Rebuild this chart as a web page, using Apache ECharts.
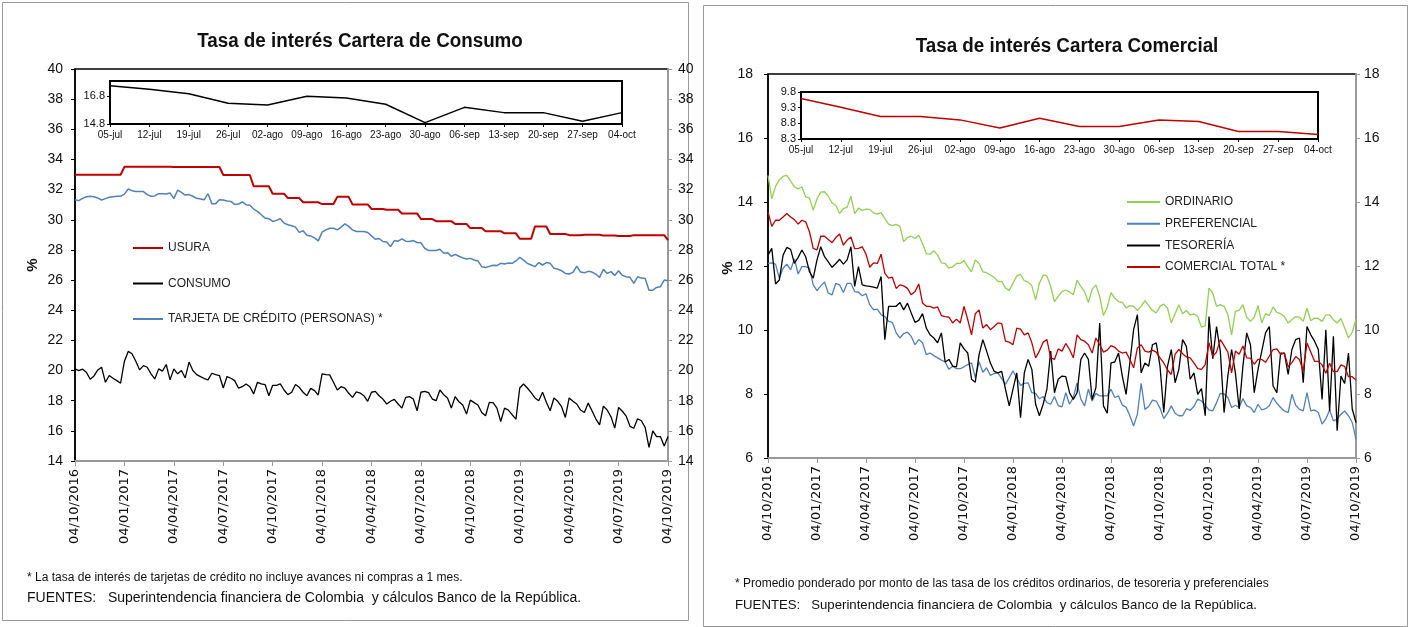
<!DOCTYPE html>
<html>
<head>
<meta charset="utf-8">
<script src="https://cdn.jsdelivr.net/npm/echarts@6/dist/echarts.min.js"></script>
<style>
  html, body { margin: 0; padding: 0; background: #fff; }
  #chart { width: 1410px; height: 627px; }
</style>
</head>
<body>
<div id="chart"></div>
<script>
const FONT = "'Liberation Sans', Arial, sans-serif"

// x axis tick labels (every 13 weeks)
const quarterLabels = ['04/10/2016', '04/01/2017', '04/04/2017', '04/07/2017', '04/10/2017', '04/01/2018', '04/04/2018',
  '04/07/2018', '04/10/2018', '04/01/2019', '04/04/2019', '04/07/2019', '04/10/2019']
const insetLabels = ['05-jul', '12-jul', '19-jul', '26-jul', '02-ago', '09-ago', '16-ago', '23-ago', '30-ago',
  '06-sep', '13-sep', '20-sep', '27-sep', '04-oct']

// tasa de usura, monthly certified value
const usuraMonths = ['2016-10', '2016-11', '2016-12', '2017-01', '2017-02', '2017-03', '2017-04', '2017-05', '2017-06',
  '2017-07', '2017-08', '2017-09', '2017-10', '2017-11', '2017-12', '2018-01', '2018-02', '2018-03', '2018-04',
  '2018-05', '2018-06', '2018-07', '2018-08', '2018-09', '2018-10', '2018-11', '2018-12', '2019-01', '2019-02',
  '2019-03', '2019-04', '2019-05', '2019-06', '2019-07', '2019-08', '2019-09', '2019-10']
const usuraRates = [32.99, 32.99, 32.99, 33.51, 33.51, 33.51, 33.50, 33.50, 33.50,
  32.97, 32.97, 32.22, 31.73, 31.44, 31.16, 31.04, 31.52, 31.02, 30.72,
  30.66, 30.42, 30.05, 29.91, 29.72, 29.45, 29.24, 29.10, 28.74, 29.55,
  29.06, 28.98, 29.01, 28.95, 28.92, 28.98, 28.98, 28.65]

// weekly series, 07/10/2016 .. 04/10/2019
const tarjeta = [31.33, 31.27, 31.42, 31.53, 31.56, 31.53, 31.44, 31.31, 31.4, 31.49,
  31.53, 31.56, 31.56, 31.7, 32.04, 31.93, 31.87, 31.87, 31.87, 31.67,
  31.56, 31.58, 31.73, 31.73, 31.71, 31.78, 31.4, 31.96, 31.82, 31.64,
  31.67, 31.56, 31.42, 31.38, 31.33, 31.73, 31.07, 31.07, 31.33, 31.31,
  31.24, 31.22, 31.02, 31.04, 31.18, 31.0, 30.96, 30.71, 30.56, 30.33,
  30.11, 30.07, 29.89, 29.96, 30.07, 29.78, 29.67, 29.6, 29.51, 29.16,
  29.27, 28.98, 28.93, 28.8, 28.6, 29.18, 29.33, 29.44, 29.44, 29.33,
  29.51, 29.73, 29.56, 29.33, 29.22, 29.22, 29.22, 29.16, 28.93,
  28.71, 28.76, 28.56, 28.53, 28.22, 28.62, 28.58, 28.73, 28.58, 28.56,
  28.62, 28.49, 28.47, 28.11, 27.96, 27.96, 27.96, 28.04, 27.78, 27.82,
  27.58, 27.71, 27.58, 27.47, 27.4, 27.44, 27.33, 27.27, 26.89, 26.84,
  26.91, 26.98, 26.96, 27.11, 27.07, 27.13, 27.11, 27.27, 27.51, 27.33,
  27.11, 27.0, 26.89, 27.16, 27.0, 27.16, 27.11, 26.78, 26.73, 26.62,
  26.44, 26.4, 26.51, 26.93, 26.53, 26.49, 26.58, 26.53, 26.4, 26.18,
  26.71, 26.44, 26.56, 26.31, 26.62, 26.31, 26.22, 26.18, 25.78, 26.22,
  26.13, 26.11, 25.33, 25.33, 25.51, 25.56, 26.0, 25.96]
const consumo = [20.11, 20.0, 20.09, 19.89, 19.42, 19.64, 20.04, 20.22, 19.22, 19.67,
  19.49, 19.33, 19.16, 20.62, 21.27, 21.11, 20.62, 20.04, 20.33, 20.22,
  19.78, 19.44, 20.11, 19.96, 20.4, 19.38, 20.11, 19.78, 20.0, 19.51,
  20.56, 20.0, 19.73, 19.6, 19.47, 19.38, 19.82, 19.73, 19.67, 18.84,
  19.6, 19.49, 19.33, 18.84, 18.93, 19.11, 18.93, 18.44, 19.22, 19.11,
  19.07, 18.33, 19.02, 19.02, 19.11, 18.71, 18.4, 18.56, 19.07, 18.89,
  18.56, 18.33, 18.82, 18.67, 18.38, 19.78, 19.73, 19.71, 19.22, 18.71,
  18.93, 18.84, 18.49, 18.22, 18.58, 18.51, 18.33, 17.96, 18.56,
  18.62, 18.33, 18.11, 17.78, 17.96, 18.09, 17.78, 17.51, 18.22, 18.27,
  18.11, 17.33, 18.56, 18.62, 18.53, 18.11, 18.0, 18.71, 18.4, 18.18,
  17.51, 18.27, 17.93, 17.71, 17.11, 18.04, 17.87, 17.71, 17.22, 17.0,
  17.89, 17.87, 17.51, 16.62, 17.51, 17.38, 17.07, 16.78, 18.84, 19.11,
  18.84, 18.53, 18.18, 18.0, 18.56, 17.89, 17.33, 18.18, 17.96, 17.6,
  16.89, 18.18, 17.96, 17.78, 17.38, 17.22, 17.84, 17.33, 16.8, 16.4,
  17.64, 17.38, 16.93, 16.18,
  17.55, 17.3, 16.98, 16.3, 16.17, 16.8, 16.67, 16.22, 14.9, 16.0, 15.62, 15.62, 15.0, 15.62]

const ordinario = [14.83, 14.1, 14.49, 14.69, 14.8, 14.83, 14.65, 14.47, 14.41, 14.47,
  14.16, 14.13, 13.74, 14.1, 14.31, 14.32, 14.18, 13.97, 13.89, 13.64,
  13.79, 13.84, 14.18, 13.64, 13.81, 13.74, 13.78, 13.77, 13.66, 13.62,
  13.67, 13.48, 13.31, 13.26, 13.3, 13.24, 12.76, 12.89, 12.93, 12.86,
  12.96, 12.7, 12.39, 12.37, 12.48, 12.34, 12.1, 12.08, 11.93, 11.98,
  12.08, 12.08, 12.17, 11.98, 11.82, 12.19, 12.08, 11.82, 11.79, 11.72,
  11.65, 11.51, 11.52, 11.31, 11.23, 11.46, 11.69, 11.74, 11.54, 11.5,
  11.38, 10.94, 11.46, 11.72, 11.69, 11.36, 10.89, 11.05, 11.2,
  11.25, 11.19, 11.1, 11.56, 11.36, 11.2, 10.86, 11.27, 11.41, 11.05,
  10.45, 10.71, 11.17, 10.99, 10.89, 10.86, 10.69, 10.76, 10.74, 10.61,
  10.74, 10.92, 10.76, 10.61, 10.53, 10.74, 10.81, 10.68, 10.22, 10.51,
  10.79, 10.51, 10.61, 10.47, 10.5, 10.42, 10.09, 10.13, 11.31, 11.15,
  10.74, 10.79, 10.74, 10.48, 9.85, 10.58, 10.61, 10.79, 10.4, 10.27,
  10.4, 10.76, 10.22, 10.51, 10.45, 10.72, 10.55, 10.51, 10.42, 10.22,
  10.32, 10.42, 10.4, 10.27, 10.68, 10.29, 10.37, 10.36, 10.27, 10.47,
  10.47, 10.32, 10.22, 10.36, 10.06, 9.75, 9.93, 10.34]
const preferencial = [12.08, 12.1, 12.06, 11.62, 11.93, 12.06, 11.88, 12.22, 11.75, 11.98,
  11.98, 11.93, 11.41, 11.23, 11.38, 11.5, 11.15, 11.1, 11.46, 11.41,
  11.17, 11.46, 11.46, 11.2, 11.18, 11.07, 11.13, 10.79, 10.63, 10.65,
  10.48, 10.42, 10.27, 10.24, 9.91, 9.75, 9.89, 9.93, 9.8, 9.54,
  9.7, 9.6, 9.23, 9.28, 9.2, 9.13, 9.06, 9.0, 8.77, 8.87,
  8.79, 8.79, 8.85, 8.92, 8.97, 8.51, 9.01, 8.68, 8.82, 8.58,
  8.64, 8.66, 8.48, 8.3, 8.51, 8.72, 8.51, 8.27, 8.33, 8.35,
  8.04, 8.02, 7.85, 7.92, 7.73, 7.68, 7.92, 7.64, 7.6,
  8.04, 7.68, 7.89, 8.35, 7.84, 7.63, 8.15, 7.78, 8.02, 7.94,
  7.94, 7.94, 8.15, 7.89, 7.94, 7.65, 7.59, 7.32, 7.0, 7.37,
  8.33, 7.52, 7.61, 7.81, 7.78, 7.56, 7.23, 7.4, 7.63, 7.4,
  7.32, 7.32, 7.54, 7.49, 7.61, 7.84, 7.78, 7.65, 7.5, 7.47,
  7.73, 8.02, 8.0, 7.89, 7.58, 7.65, 7.58, 7.86, 7.63, 7.58,
  7.42, 7.68, 7.5, 7.54, 7.63, 7.89, 7.71, 7.58, 7.47, 7.42,
  7.99, 7.65, 7.52, 7.47, 8.04, 7.47, 7.5, 7.42, 7.06, 7.22,
  7.5, 7.16, 7.22, 7.37, 7.47, 7.32, 7.11, 6.59]
const tesoreria = [12.34, 12.55, 11.44, 11.56, 12.34, 12.58, 12.52, 12.08, 12.27, 12.5,
  12.29, 11.82, 11.62, 12.19, 12.6, 12.29, 12.13, 11.96, 12.08, 12.21,
  12.06, 12.19, 12.6, 11.36, 11.98, 11.41, 11.38, 11.36, 11.34, 11.31,
  11.67, 9.7, 10.74, 10.74, 10.74, 10.86, 10.63, 10.84, 10.53, 10.24,
  10.3, 10.51, 10.06, 9.85, 9.75, 9.6, 9.91, 9.0, 9.08, 8.87,
  8.85, 9.6, 9.41, 9.28, 8.46, 8.37, 9.23, 9.7, 9.34, 8.97,
  8.71, 8.66, 8.71, 8.15, 7.63, 8.15, 8.66, 7.26, 8.66, 9.08,
  8.77, 7.68, 7.32, 7.68, 8.15, 9.34, 8.04, 8.46, 8.56,
  8.54, 8.04, 7.83, 8.04, 9.08, 9.28, 9.08, 7.83, 8.2, 10.22,
  7.63, 7.4, 8.97, 9.0, 9.28, 8.56, 7.99, 8.97, 10.01, 10.48,
  8.66, 8.97, 8.87, 9.54, 9.6, 8.87, 7.42, 8.87, 9.39, 8.35,
  8.77, 9.7, 9.49, 8.46, 8.66, 7.99, 8.17, 7.32, 10.42, 9.1,
  10.11, 9.34, 7.42, 8.56, 9.39, 8.66, 7.53, 8.87, 9.91, 9.54,
  8.04, 8.77, 9.34, 9.91, 10.11, 8.25, 8.04, 9.28, 9.28, 8.61,
  9.39, 9.7, 9.75, 8.35, 10.11, 9.85, 9.65, 9.39, 7.83, 10.01,
  7.47, 9.8, 6.85, 8.56, 8.33, 9.28, 7.53, 7.11]
const comercial = [13.69, 13.24, 13.43, 13.43, 13.53, 13.64, 13.53, 13.45, 13.31, 13.43,
  13.38, 13.07, 12.55, 12.5, 12.93, 12.93, 12.83, 12.73, 12.89, 13.0,
  12.65, 12.81, 12.91, 12.54, 12.55, 12.6, 12.37, 11.96, 12.1, 12.08,
  12.37, 11.77, 11.62, 11.65, 11.3, 11.41, 11.38, 11.3, 11.1, 11.2,
  11.44, 10.84, 10.74, 10.74, 10.68, 10.72, 10.45, 10.42, 10.4, 10.22,
  10.34, 10.22, 10.74, 10.32, 9.85, 10.51, 10.63, 10.06, 10.17, 10.01,
  10.11, 10.22, 10.2, 9.65, 9.62, 9.54, 10.06, 10.03, 9.85, 9.91,
  9.6, 9.13, 9.34, 9.62, 9.7, 9.13, 9.08, 9.41, 9.34,
  9.58, 9.39, 9.13, 9.85, 9.7, 9.65, 9.54, 9.28, 9.75, 9.54,
  9.31, 9.37, 9.51, 9.46, 9.34, 9.28, 9.31, 9.08, 8.82, 9.44,
  9.54, 9.34, 9.31, 9.37, 9.31, 9.13, 8.97, 8.75, 8.61, 9.24,
  9.39, 9.26, 9.16, 9.13, 8.97, 8.79, 8.77, 8.92, 9.6, 9.18,
  9.31, 9.7, 9.51, 9.31, 8.66, 9.34, 9.24, 9.5, 9.13, 9.12,
  8.93, 9.08, 9.08, 8.99, 9.18, 9.39, 9.41, 9.24, 9.28, 8.85,
  8.98, 9.17, 9.08, 8.72,
  9.59, 9.31, 9.02, 9.02, 8.91, 8.65, 8.96, 8.70, 8.70, 8.91, 8.86, 8.54, 8.54, 8.44]

// weekly categories
const weeks = []
for (let i = 0; i < tarjeta.length; i++) {
  const d = new Date(Date.UTC(2016, 9, 7 + 7 * i))
  weeks.push(d.toISOString().slice(0, 10))
}
const usura = weeks.map(w => usuraRates[usuraMonths.indexOf(w.slice(0, 7))])

const RED = '#C00000'
const BLUE = '#4F81BD'
const GREEN = '#92D050'

const chart = echarts.init(document.getElementById('chart'))

function mainX(gridIndex) {
  return {
    type: 'category', gridIndex: gridIndex, data: weeks, boundaryGap: false,
    axisLine: { lineStyle: { color: '#999', width: 2 } },
    axisTick: { interval: 12, length: 5, lineStyle: { color: '#999' } },
    axisLabel: {
      interval: 12, rotate: 90, margin: 8, color: '#111', fontSize: 13, fontFamily: 'DejaVu Sans',
      formatter: (v, i) => quarterLabels[Math.round(i / 13)]
    },
    splitLine: { show: false }
  }
}
function insetX(gridIndex) {
  return {
    type: 'category', gridIndex: gridIndex, data: insetLabels, boundaryGap: false,
    axisLine: { lineStyle: { color: '#000', width: 2 } },
    axisTick: { length: 3, lineStyle: { color: '#000' } },
    axisLabel: { interval: 0, color: '#111', fontSize: 10, fontFamily: FONT, margin: 6 },
    splitLine: { show: false }
  }
}
function valueY(gridIndex, pos, min, max, interval, lineColor, margin) {
  return {
    type: 'value', gridIndex: gridIndex, position: pos, min: min, max: max, interval: interval,
    axisLine: { show: true, lineStyle: { color: lineColor, width: pos === 'left' ? 1.5 : 2 } },
    axisTick: { show: true, length: 4, lineStyle: { color: lineColor } },
    axisLabel: { color: '#111', fontSize: 14, fontFamily: FONT, margin: margin },
    splitLine: { show: false }
  }
}
function insetY(gridIndex, min, max, interval) {
  return {
    type: 'value', gridIndex: gridIndex, min: min, max: max, interval: interval,
    axisLine: { show: true, lineStyle: { color: '#000', width: 2 } },
    axisTick: { show: true, length: 3, lineStyle: { color: '#000' } },
    axisLabel: { color: '#111', fontSize: 11, fontFamily: FONT, margin: 5, showMaxLabel: false,
      formatter: v => v.toFixed(1) },
    splitLine: { show: false }
  }
}
function line(name, data, color, width, x, y) {
  return {
    name: name, type: 'line', data: data, xAxisIndex: x, yAxisIndex: y,
    symbol: 'none', lineStyle: { color: color, width: width }, itemStyle: { color: color },
    animation: false
  }
}
function txt(x, y, text, size, opts) {
  return {
    type: 'text', x: x, y: y, rotation: (opts && opts.rotation) || 0, scaleX: (opts && opts.scaleX) || 1,
    style: Object.assign({ text: text, fill: '#111', font: size + 'px ' + FONT, textVerticalAlign: 'middle' }, opts && opts.style)
  }
}

const rightInsetY = insetY(3, 8.3, 9.8, 0.5)
rightInsetY.axisLabel.showMaxLabel = true

chart.setOption({
  backgroundColor: '#fff',
  animation: false,
  grid: [
    { left: 75, top: 69, width: 593, height: 392, show: true, borderColor: '#000', borderWidth: 1.5, backgroundColor: 'transparent' },
    { left: 110, top: 81, width: 512, height: 43, show: true, borderColor: '#000', borderWidth: 2, backgroundColor: '#fff' },
    { left: 768, top: 74, width: 588, height: 384, show: true, borderColor: '#000', borderWidth: 1.5, backgroundColor: 'transparent' },
    { left: 801, top: 92, width: 517, height: 47, show: true, borderColor: '#000', borderWidth: 2, backgroundColor: '#fff' }
  ],
  xAxis: [mainX(0), insetX(1), mainX(2), insetX(3)],
  yAxis: [
    valueY(0, 'left', 14, 40, 2, '#000', 12),
    valueY(0, 'right', 14, 40, 2, '#999', 10),
    insetY(1, 14.8, 17.9, 2),
    valueY(2, 'left', 6, 18, 2, '#000', 15),
    valueY(2, 'right', 6, 18, 2, '#999', 8),
    rightInsetY
  ],
  legend: [
    {
      left: 128, top: 237, orient: 'vertical', itemGap: 23.5, itemWidth: 30, itemHeight: 2, icon: 'rect',
      textStyle: { color: '#222', fontSize: 12, fontFamily: FONT },
      data: ['USURA', 'CONSUMO', 'TARJETA DE CRÉDITO (PERSONAS) *']
    },
    {
      left: 1122, top: 191, orient: 'vertical', itemGap: 9.7, itemWidth: 33, itemHeight: 2, icon: 'rect',
      textStyle: { color: '#222', fontSize: 12, fontFamily: FONT },
      data: ['ORDINARIO', 'PREFERENCIAL', 'TESORERÍA', 'COMERCIAL TOTAL *']
    }
  ],
  series: [
    line('USURA', usura, RED, 2, 0, 0),
    line('CONSUMO', consumo, '#000', 1.3, 0, 0),
    line('TARJETA DE CRÉDITO (PERSONAS) *', tarjeta, BLUE, 1.5, 0, 0),
    line('Consumo últimas semanas', consumo.slice(-insetLabels.length), '#000', 1.5, 1, 2),
    line('ORDINARIO', ordinario, GREEN, 1.3, 2, 3),
    line('PREFERENCIAL', preferencial, BLUE, 1.3, 2, 3),
    line('TESORERÍA', tesoreria, '#000', 1.3, 2, 3),
    line('COMERCIAL TOTAL *', comercial, RED, 1.3, 2, 3),
    line('Comercial últimas semanas', comercial.slice(-insetLabels.length), RED, 1.5, 3, 5)
  ],
  graphic: [
    { type: 'rect', shape: { x: 2.5, y: 2.5, width: 686, height: 618 }, style: { fill: 'none', stroke: '#999', lineWidth: 1 } },
    { type: 'rect', shape: { x: 703.5, y: 5.5, width: 704, height: 621 }, style: { fill: 'none', stroke: '#999', lineWidth: 1 } },
    txt(360, 41, 'Tasa de interés Cartera de Consumo', 20, { scaleX: 0.94, style: { textAlign: 'center', font: 'bold 20px ' + FONT } }),
    txt(1067, 46, 'Tasa de interés Cartera Comercial', 20, { scaleX: 0.94, style: { textAlign: 'center', font: 'bold 20px ' + FONT } }),
    txt(33, 265, '%', 15, { rotation: Math.PI / 2, style: { textAlign: 'center', font: 'bold 15px ' + FONT } }),
    txt(728, 268, '%', 15, { rotation: Math.PI / 2, style: { textAlign: 'center', font: 'bold 15px ' + FONT } }),
    txt(27, 578, '* La tasa de interés de tarjetas de crédito no incluye avances ni compras a 1 mes.', 12),
    txt(27, 598, 'FUENTES:   Superintendencia financiera de Colombia  y cálculos Banco de la República.', 14),
    txt(735, 584, '* Promedio ponderado por monto de las tasa de los créditos ordinarios, de tesoreria y preferenciales', 12),
    txt(735, 605, 'FUENTES:   Superintendencia financiera de Colombia  y cálculos Banco de la República.', 13.2)
  ]
})
</script>
</body>
</html>
